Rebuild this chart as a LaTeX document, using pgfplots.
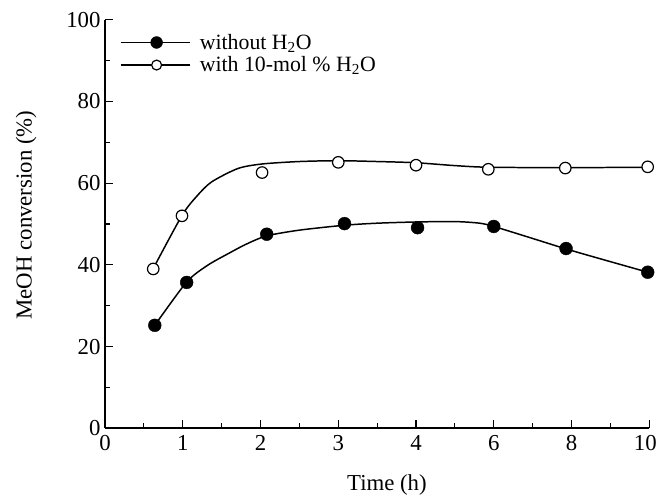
\documentclass[border=0pt]{standalone}
\usepackage{pgfplots}
\pgfplotsset{compat=1.18}
\usepackage{fontspec}
\setmainfont{Liberation Serif}

% measured points, x = position of the tick (0,1,2,3,4,6,8,10 -> 0..7)
\begin{document}
\begin{tikzpicture}
\begin{axis}[
  scale only axis,
  width=549pt, height=412pt,
  xmin=0, xmax=7, ymin=0, ymax=100,
  clip=false,
  xtick={0,1,...,7},
  xticklabels={0,1,2,3,4,6,8,\hspace*{-8pt}10},
  minor xtick={0.5,1.5,...,6.5},
  ytick={0,20,...,100},
  minor ytick={10,30,...,90},
  axis x line*=bottom, axis y line*=left,
  tick align=inside,
  major tick length=8pt, minor tick length=5pt,
  every tick/.style={black, line width=1.2pt},
  axis line style={line width=1.5pt},
  tick label style={font=\fontsize{23}{26}\selectfont},
  label style={font=\fontsize{23}{26}\selectfont},
  xticklabel style={yshift=-4pt},
  yticklabel style={xshift=-1pt},
  /pgf/number format/assume math mode=true,
  xlabel={Time (h)},
  ylabel={MeOH conversion (\%)},
  xlabel style={at={(axis description cs:0.518,-0.138)}, anchor=center},
  ylabel style={at={(axis description cs:-0.145,0.522)}, anchor=center},
  legend style={draw=none, fill=none, at={(axis description cs:0.022,0.975)}, anchor=north west,
    font=\fontsize{22}{24}\selectfont, row sep=2pt},
  legend cell align=left,
  legend image code/.code={
    \draw[#1, line width=1.5pt] (0pt,0pt) -- (70pt,0pt);
    \draw[#1, mark repeat=2, mark phase=2] plot coordinates {(0pt,0pt) (36pt,0pt) (70pt,0pt)};
    \path (77pt,0pt);
  },
]
% fitted curves
\addplot[black, line width=1.5pt, smooth, tension=0.45, forget plot] coordinates {
  (0.64,25.2) (1.05,35.8) (1.32,39.9) (1.58,42.7) (1.82,45.1) (2.08,47.1)
  (2.5,48.5) (3.08,49.7) (3.5,50.2) (4.0,50.5) (4.5,50.6) (4.82,50.2)
  (5.0,49.4) (5.46,46.7) (5.93,43.9) (6.46,41.0) (7.0,38.1)
};
\addplot[black, line width=1.5pt, smooth, tension=0.45, forget plot] coordinates {
  (0.62,39.1) (0.99,52.1) (1.18,56.8) (1.37,60.3) (1.71,63.6) (2.02,64.7)
  (2.5,65.3) (3.0,65.5) (3.5,65.3) (4.0,65.0) (4.5,64.3) (4.93,63.9)
  (5.92,63.8) (7.0,63.9)
};
% data points
\addplot[only marks, mark=*, mark size=6.5pt, black, forget plot] coordinates {
  (0.64,25.2) (1.05,35.7) (2.08,47.5) (3.08,50.1) (4.02,49.1) (5.0,49.4) (5.93,44.0) (6.98,38.2)
};
\addplot[only marks, mark=*, mark size=5.8pt, black, fill=white, line width=1.2pt, forget plot] coordinates {
  (0.62,39.0) (0.99,52.0) (2.02,62.6) (3.0,65.1) (4.0,64.4) (4.93,63.4) (5.92,63.7) (6.98,64.0)
};
\addlegendimage{black, mark=*, mark size=6pt}
\addlegendentry{without H\textsubscript{2}O}
\addlegendimage{black, mark=*, mark size=5pt, fill=white, line width=1.2pt}
\addlegendentry{with 10-mol \% H\textsubscript{2}O}
\coordinate (bl) at (axis description cs:-0.193,-0.172);
\coordinate (tr) at (axis description cs:1.009,1.0485);
\end{axis}
\path (bl) (tr);
\end{tikzpicture}
\end{document}
